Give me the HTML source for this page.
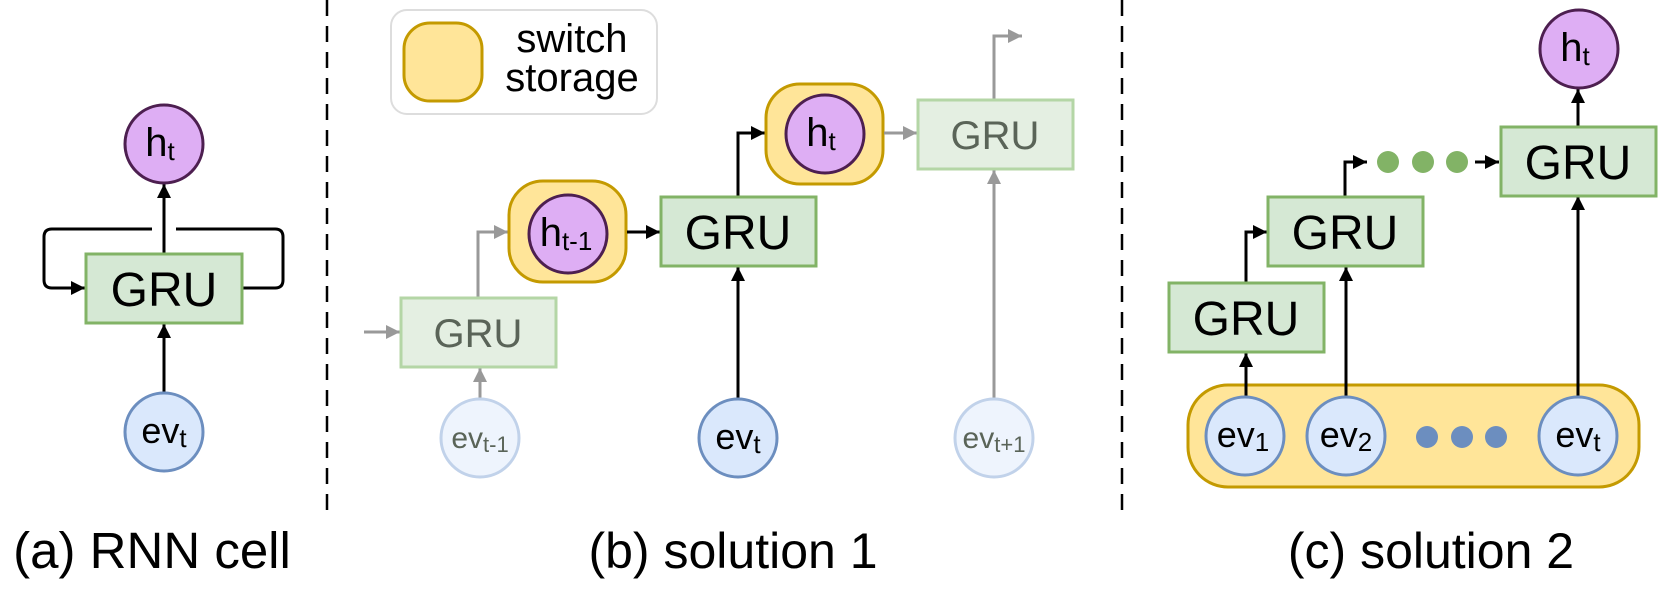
<!DOCTYPE html>
<html><head><meta charset="utf-8"><style>
html,body{margin:0;padding:0;background:#fff;}
svg{display:block;font-family:"Liberation Sans",sans-serif;}
</style></head><body>
<svg width="1660" height="589" viewBox="0 0 1660 589" xmlns="http://www.w3.org/2000/svg">
<defs>
<marker id="ab" markerUnits="userSpaceOnUse" markerWidth="16" markerHeight="14" refX="14" refY="7" orient="auto"><path d="M0,0 L14,7 L0,14 Z" fill="#000"/></marker>
<marker id="ag" markerUnits="userSpaceOnUse" markerWidth="16" markerHeight="14" refX="14" refY="7" orient="auto"><path d="M0,0 L14,7 L0,14 Z" fill="#999"/></marker>
</defs>

<!-- dashed separators -->
<line x1="327" y1="0" x2="327" y2="515" stroke="#000" stroke-width="2.5" stroke-dasharray="16,10"/>
<line x1="1122" y1="0" x2="1122" y2="515" stroke="#000" stroke-width="2.5" stroke-dasharray="16,10"/>

<!-- Panel a -->
<path d="M152,229 H52 Q44,229 44,237 V280 Q44,288 52,288 H85" fill="none" stroke="#000" stroke-width="3" marker-end="url(#ab)"/>
<path d="M243,288 H275 Q283,288 283,280 V237 Q283,229 275,229 H176" fill="none" stroke="#000" stroke-width="3"/>
<line x1="164" y1="253" x2="164" y2="184" stroke="#000" stroke-width="3" marker-end="url(#ab)"/>
<line x1="164" y1="392" x2="164" y2="324" stroke="#000" stroke-width="3" marker-end="url(#ab)"/>
<rect x="86" y="254" width="156" height="69" fill="#d5e8d4" stroke="#82b366" stroke-width="3"/>
<text x="164" y="306" font-size="48" text-anchor="middle" fill="#000">GRU</text>
<circle cx="164" cy="144" r="39" fill="#deaef4" stroke="#4d1f50" stroke-width="3"/>
<text x="160" y="156" font-size="40" text-anchor="middle">h<tspan font-size="26" dy="4">t</tspan></text>
<circle cx="164" cy="432" r="39" fill="#dae8fc" stroke="#6c8ebf" stroke-width="3"/>
<text x="164" y="443" font-size="36" text-anchor="middle">ev<tspan font-size="26" dy="4">t</tspan></text>
<text x="152" y="568" font-size="51" text-anchor="middle">(a) RNN cell</text>

<!-- Panel b legend -->
<rect x="391" y="10" width="266" height="104" rx="16" fill="#fff" stroke="#dddddd" stroke-width="2"/>
<rect x="404" y="23" width="78" height="78" rx="26" fill="#ffe599" stroke="#c49a00" stroke-width="3"/>
<text x="572" y="52" font-size="40" text-anchor="middle">switch</text>
<text x="572" y="91" font-size="40" text-anchor="middle">storage</text>

<!-- faded GRU1 -->
<line x1="364" y1="332" x2="400" y2="332" stroke="#999" stroke-width="3" marker-end="url(#ag)"/>
<line x1="480" y1="398" x2="480" y2="368" stroke="#999" stroke-width="3" marker-end="url(#ag)"/>
<path d="M478,297 V232 H508" fill="none" stroke="#999" stroke-width="3" marker-end="url(#ag)"/>
<rect x="401" y="298" width="155" height="69" fill="#e4efe2" stroke="#b4d6a6" stroke-width="3"/>
<text x="478" y="347" font-size="40" text-anchor="middle" fill="#5a6458">GRU</text>
<circle cx="480" cy="438" r="39" fill="#eef4fd" stroke="#c1d2ea" stroke-width="3"/>
<text x="480" y="448" font-size="30" text-anchor="middle" fill="#5a6458">ev<tspan font-size="22" dy="4">t-1</tspan></text>

<!-- h_{t-1} -->
<rect x="509" y="181" width="117" height="101" rx="34" fill="#ffe599" stroke="#c49a00" stroke-width="3"/>
<circle cx="568" cy="234" r="39" fill="#deaef4" stroke="#4d1f50" stroke-width="3"/>
<text x="566" y="246" font-size="40" text-anchor="middle">h<tspan font-size="26" dy="4">t-1</tspan></text>
<line x1="627" y1="232" x2="660" y2="232" stroke="#000" stroke-width="3" marker-end="url(#ab)"/>

<!-- GRU2 -->
<line x1="738" y1="398" x2="738" y2="267" stroke="#000" stroke-width="3" marker-end="url(#ab)"/>
<path d="M738,196 V133 H765" fill="none" stroke="#000" stroke-width="3" marker-end="url(#ab)"/>
<rect x="661" y="197" width="155" height="69" fill="#d5e8d4" stroke="#82b366" stroke-width="3"/>
<text x="738" y="249" font-size="48" text-anchor="middle">GRU</text>
<circle cx="738" cy="438" r="39" fill="#dae8fc" stroke="#6c8ebf" stroke-width="3"/>
<text x="738" y="449" font-size="36" text-anchor="middle">ev<tspan font-size="26" dy="4">t</tspan></text>

<!-- h_t -->
<rect x="766" y="84" width="117" height="100" rx="34" fill="#ffe599" stroke="#c49a00" stroke-width="3"/>
<circle cx="825" cy="134" r="39" fill="#deaef4" stroke="#4d1f50" stroke-width="3"/>
<text x="821" y="146" font-size="40" text-anchor="middle">h<tspan font-size="26" dy="4">t</tspan></text>
<line x1="884" y1="133" x2="917" y2="133" stroke="#999" stroke-width="3" marker-end="url(#ag)"/>

<!-- faded GRU3 -->
<line x1="994" y1="398" x2="994" y2="170" stroke="#999" stroke-width="3" marker-end="url(#ag)"/>
<path d="M994,99 V36 H1022" fill="none" stroke="#999" stroke-width="3" marker-end="url(#ag)"/>
<rect x="918" y="100" width="155" height="69" fill="#e4efe2" stroke="#b4d6a6" stroke-width="3"/>
<text x="995" y="149" font-size="40" text-anchor="middle" fill="#5a6458">GRU</text>
<circle cx="994" cy="438" r="39" fill="#eef4fd" stroke="#c1d2ea" stroke-width="3"/>
<text x="994" y="448" font-size="30" text-anchor="middle" fill="#5a6458">ev<tspan font-size="22" dy="4">t+1</tspan></text>

<text x="733" y="568" font-size="50" text-anchor="middle">(b) solution 1</text>

<!-- Panel c -->
<rect x="1188" y="385" width="451" height="102" rx="40" fill="#ffe599" stroke="#c49a00" stroke-width="3"/>
<line x1="1246" y1="397" x2="1246" y2="353" stroke="#000" stroke-width="3" marker-end="url(#ab)"/>
<path d="M1246,282 V232 H1267" fill="none" stroke="#000" stroke-width="3" marker-end="url(#ab)"/>
<line x1="1346" y1="397" x2="1346" y2="267" stroke="#000" stroke-width="3" marker-end="url(#ab)"/>
<path d="M1345,196 V162 H1367" fill="none" stroke="#000" stroke-width="3" marker-end="url(#ab)"/>
<line x1="1475" y1="162" x2="1499" y2="162" stroke="#000" stroke-width="3" marker-end="url(#ab)"/>
<line x1="1578" y1="397" x2="1578" y2="196" stroke="#000" stroke-width="3" marker-end="url(#ab)"/>
<line x1="1578" y1="126" x2="1578" y2="89" stroke="#000" stroke-width="3" marker-end="url(#ab)"/>
<rect x="1169" y="283" width="155" height="69" fill="#d5e8d4" stroke="#82b366" stroke-width="3"/>
<text x="1246" y="335" font-size="48" text-anchor="middle">GRU</text>
<rect x="1268" y="197" width="155" height="69" fill="#d5e8d4" stroke="#82b366" stroke-width="3"/>
<text x="1345" y="249" font-size="48" text-anchor="middle">GRU</text>
<rect x="1501" y="127" width="155" height="69" fill="#d5e8d4" stroke="#82b366" stroke-width="3"/>
<text x="1578" y="179" font-size="48" text-anchor="middle">GRU</text>
<circle cx="1388" cy="162" r="11" fill="#82b366"/>
<circle cx="1423" cy="162" r="11" fill="#82b366"/>
<circle cx="1457" cy="162" r="11" fill="#82b366"/>
<circle cx="1579" cy="49" r="39" fill="#deaef4" stroke="#4d1f50" stroke-width="3"/>
<text x="1575" y="61" font-size="40" text-anchor="middle">h<tspan font-size="26" dy="4">t</tspan></text>
<circle cx="1245" cy="436" r="39" fill="#dae8fc" stroke="#6c8ebf" stroke-width="3"/>
<text x="1243" y="447" font-size="36" text-anchor="middle">ev<tspan font-size="26" dy="4">1</tspan></text>
<circle cx="1346" cy="436" r="39" fill="#dae8fc" stroke="#6c8ebf" stroke-width="3"/>
<text x="1346" y="447" font-size="36" text-anchor="middle">ev<tspan font-size="26" dy="4">2</tspan></text>
<circle cx="1427" cy="437" r="11" fill="#6c8ebf"/>
<circle cx="1462" cy="437" r="11" fill="#6c8ebf"/>
<circle cx="1496" cy="437" r="11" fill="#6c8ebf"/>
<circle cx="1578" cy="436" r="39" fill="#dae8fc" stroke="#6c8ebf" stroke-width="3"/>
<text x="1578" y="447" font-size="36" text-anchor="middle">ev<tspan font-size="26" dy="4">t</tspan></text>

<text x="1431" y="568" font-size="50" text-anchor="middle">(c) solution 2</text>
</svg>
</body></html>
